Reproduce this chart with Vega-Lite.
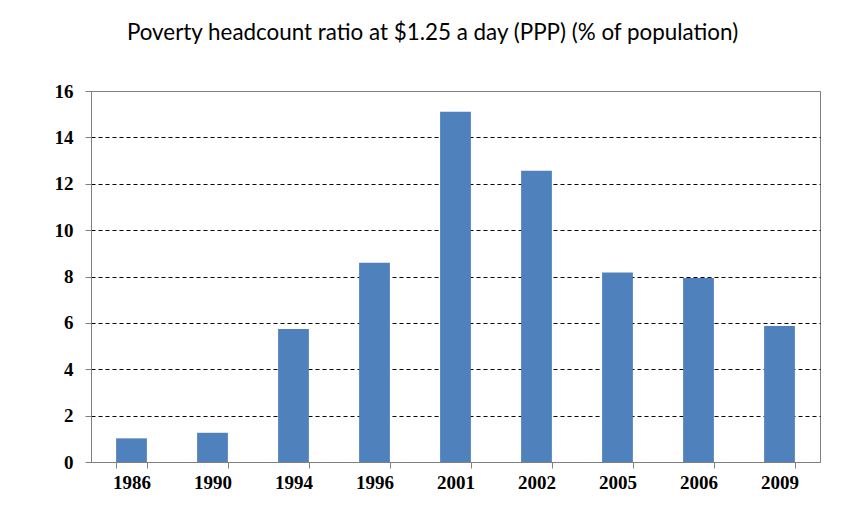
{
  "$schema": "https://vega.github.io/schema/vega-lite/v6.json",
  "autosize": {"type": "none"},
  "width": 729,
  "height": 371,
  "padding": {"left": 91, "top": 91, "right": 29, "bottom": 69},
  "background": "white",
  "title": {
    "text": "Poverty headcount ratio at $1.25  a day (PPP) (% of population)",
    "font": "Lato",
    "fontSize": 22.4,
    "fontWeight": "normal",
    "color": "#000000",
    "anchor": "middle",
    "dx": -23,
    "offset": 38
  },
  "data": {
    "values": [
      {"year": "1986", "value": 1.02},
      {"year": "1990", "value": 1.26},
      {"year": "1994", "value": 5.74},
      {"year": "1996", "value": 8.59},
      {"year": "2001", "value": 15.1},
      {"year": "2002", "value": 12.56},
      {"year": "2005", "value": 8.17},
      {"year": "2006", "value": 7.93},
      {"year": "2009", "value": 5.87}
    ]
  },
  "config": {
    "view": {"stroke": "#808080", "strokeWidth": 1}
  },
  "mark": {"type": "bar", "color": "#4F81BD"},
  "encoding": {
    "x": {
      "field": "year",
      "type": "nominal",
      "sort": null,
      "scale": {"paddingInner": 0.62, "paddingOuter": 0.31},
      "axis": {
        "title": null,
        "labelAngle": 0,
        "labelFont": "Liberation Serif",
        "labelFontWeight": "bold",
        "labelFontSize": 19,
        "labelColor": "#000000",
        "labelPadding": 5,
        "tickBand": "extent",
        "tickColor": "#808080",
        "tickSize": 6,
        "domainColor": "#808080",
        "grid": false
      }
    },
    "y": {
      "field": "value",
      "type": "quantitative",
      "scale": {"domain": [0, 16], "nice": false},
      "axis": {
        "title": null,
        "values": [0, 2, 4, 6, 8, 10, 12, 14, 16],
        "labelFont": "Liberation Serif",
        "labelFontWeight": "bold",
        "labelFontSize": 19,
        "labelColor": "#000000",
        "labelPadding": 12,
        "tickColor": "#808080",
        "tickSize": 6,
        "domainColor": "#808080",
        "grid": true,
        "gridColor": {"condition": {"test": "datum.value === 16 || datum.value === 0", "value": "#808080"}, "value": "#000000"},
        "gridDash": {"condition": {"test": "datum.value === 16 || datum.value === 0", "value": []}, "value": [4, 3]},
        "gridWidth": 1
      }
    }
  }
}
